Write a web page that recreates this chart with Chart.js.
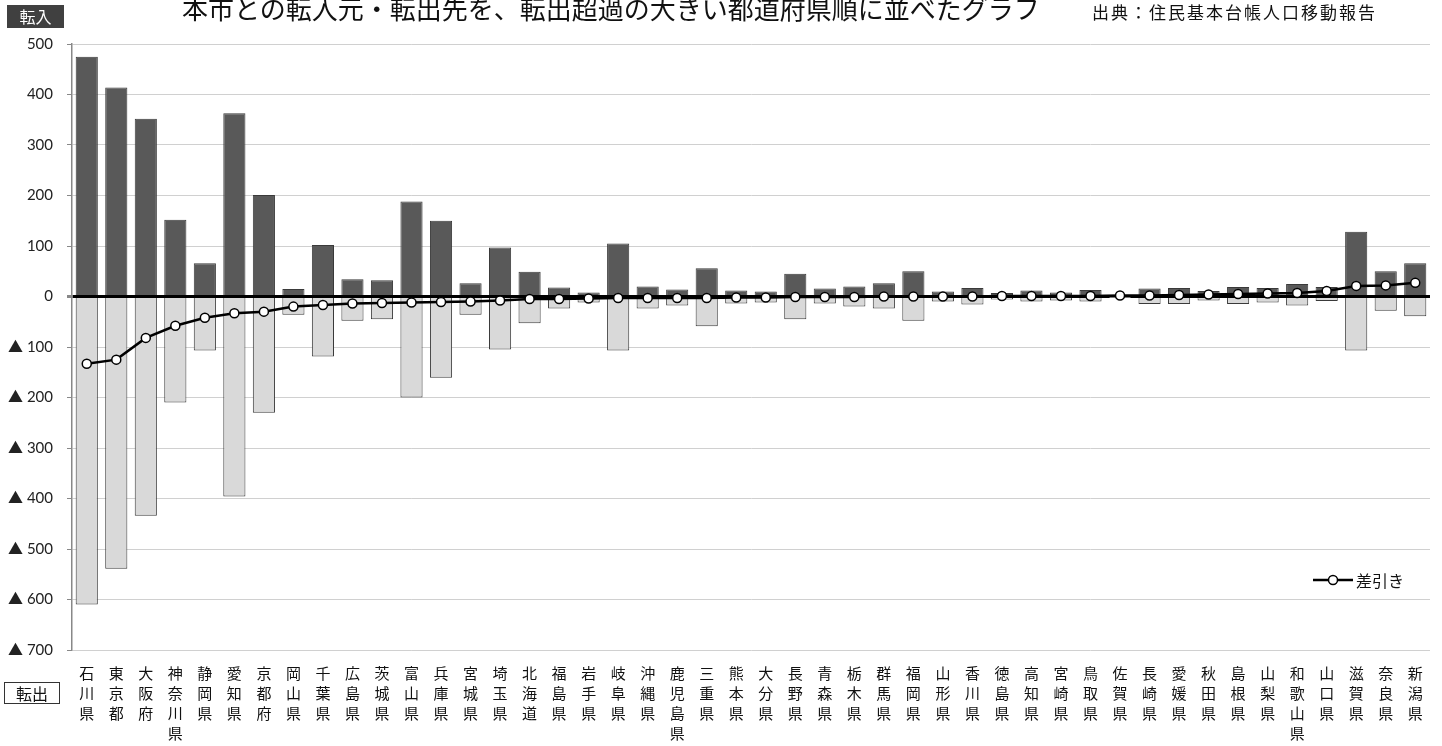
<!DOCTYPE html>
<html lang="ja">
<head>
<meta charset="utf-8">
<script src="https://cdn.jsdelivr.net/npm/chart.js@4"></script>
<style>
  body { margin: 0; background: #fff; }
  #wrap { position: relative; width: 1442px; height: 746px; overflow: hidden; font-family: "Noto Sans CJK JP", sans-serif; }
  #wrap canvas { position: absolute; left: 0; top: 0; }
  .title { position: absolute; left: 182px; top: -5px; font-size: 26px; line-height: 26px; color: #111; white-space: nowrap; }
  .source { position: absolute; left: 1092px; top: 2px; font-size: 17px; line-height: 20px; letter-spacing: 2px; color: #111; white-space: nowrap; }
  .tag-in { position: absolute; left: 7px; top: 5px; width: 57px; height: 23px; background: #404040; color: #fff; font-size: 16px; line-height: 23px; text-align: center; }
  .tag-out { position: absolute; left: 4px; top: 682px; width: 54px; height: 20px; border: 1px solid #333; color: #111; font-size: 16px; line-height: 20px; text-align: center; }
  .legend { position: absolute; left: 1313px; top: 569px; height: 22px; display: flex; align-items: center; font-size: 16px; color: #111; }
  .legend svg { margin-right: 3px; }
</style>
</head>
<body>
<div id="wrap">
  <canvas id="myChart" width="1442" height="746"></canvas>
  <div class="title">本市との転入元・転出先を、転出超過の大きい都道府県順に並べたグラフ</div>
  <div class="source">出典：住民基本台帳人口移動報告</div>
  <div class="tag-in">転入</div>
  <div class="tag-out">転出</div>
  <div class="legend">
    <svg width="40" height="12"><line x1="0" y1="6" x2="40" y2="6" stroke="#000" stroke-width="2.5"/><circle cx="20" cy="6" r="4.5" fill="#fff" stroke="#000" stroke-width="1.5"/></svg>
    <span>差引き</span>
  </div>
</div>
<script>
// 都道府県（転出超過の大きい順）
const prefectures = [
  "石川県", "東京都", "大阪府", "神奈川県", "静岡県", "愛知県", "京都府", "岡山県",
  "千葉県", "広島県", "茨城県", "富山県", "兵庫県", "宮城県", "埼玉県", "北海道",
  "福島県", "岩手県", "岐阜県", "沖縄県", "鹿児島県", "三重県", "熊本県", "大分県",
  "長野県", "青森県", "栃木県", "群馬県", "福岡県", "山形県", "香川県", "徳島県",
  "高知県", "宮崎県", "鳥取県", "佐賀県", "長崎県", "愛媛県", "秋田県", "島根県",
  "山梨県", "和歌山県", "山口県", "滋賀県", "奈良県", "新潟県",
];

// 転入（人）
const tennyu = [
  475, 414, 352, 152, 66, 363, 201, 15,
  102, 34, 32, 188, 150, 26, 97, 49,
  18, 8, 105, 20, 14, 56, 12, 10,
  45, 16, 20, 26, 50, 10, 17, 7,
  12, 8, 13, 2, 16, 17, 11, 19,
  17, 25, 19, 128, 50, 66,
];

// 転出（人、マイナス表示）
const tenshutsu = [
  -610, -539, -434, -210, -107, -396, -230, -36,
  -119, -48, -45, -200, -161, -36, -105, -53,
  -24, -12, -107, -24, -18, -59, -14, -12,
  -45, -14, -20, -24, -48, -10, -16, -6,
  -10, -8, -10, -1, -15, -15, -8, -15,
  -12, -18, -9, -107, -28, -39,
];

// 差引き
const sabiki = [
  -133, -125, -82, -58, -42, -33, -30, -20,
  -17, -14, -13, -12, -11, -10, -8, -5,
  -5, -4, -3, -3, -3, -3, -2, -2,
  -1, -1, -1, 0, 0, 0, 0, 1,
  1, 1, 1, 2, 2, 3, 4, 5,
  6, 7, 11, 21, 22, 27,
];

const yMin = -700;
const yMax = 500;
const yStep = 100;

// ラベルは縦書き（1文字ずつ改行）
const labels = prefectures.map((p) => p.split(""));

const numFont = 'Lato, "Noto Sans CJK JP", sans-serif';

const config = {
  type: "bar",
  data: {
    labels: labels,
    datasets: [
      {
        type: "line",
        label: "差引き",
        data: sabiki,
        borderColor: "#000",
        borderWidth: 2.5,
        pointRadius: 4.5,
        pointBackgroundColor: "#fff",
        pointBorderColor: "#000",
        pointBorderWidth: 1.5,
        tension: 0,
        order: 0,
      },
      {
        label: "転入",
        data: tennyu,
        backgroundColor: "#595959",
        borderColor: "#3a3a3a",
        borderWidth: 1,
        barPercentage: 0.75,
        categoryPercentage: 1,
        order: 1,
      },
      {
        label: "転出",
        data: tenshutsu,
        backgroundColor: "#d9d9d9",
        borderColor: "#3a3a3a",
        borderWidth: 1,
        barPercentage: 0.75,
        categoryPercentage: 1,
        order: 2,
      },
    ],
  },
  options: {
    responsive: false,
    animation: false,
    layout: {
      padding: { left: 0, right: 12, top: 44, bottom: 0 },
    },
    plugins: {
      legend: { display: false },
      tooltip: { enabled: false },
    },
    scales: {
      x: {
        stacked: true,
        offset: true,
        grid: { display: false, drawTicks: false },
        border: { display: false },
        ticks: {
          autoSkip: false,
          maxRotation: 0,
          minRotation: 0,
          padding: 13,
          color: "#111",
          font: { family: '"Noto Sans CJK JP", sans-serif', size: 15, lineHeight: "20px" },
        },
        afterFit: (axis) => {
          axis.height = 96;
        },
      },
      y: {
        min: yMin,
        max: yMax,
        ticks: {
          stepSize: yStep,
          padding: 14,
          color: "#222",
          font: { family: numFont, size: 15 },
          callback: (v) => (v < 0 ? "▲ " + -v : v),
        },
        grid: {
          color: (ctx) => (ctx.tick && ctx.tick.value === 0 ? "#000" : "#d0d0d0"),
          lineWidth: (ctx) => (ctx.tick && ctx.tick.value === 0 ? 3 : 1),
          tickLength: 5,
          tickColor: "#888",
        },
        border: { display: true, color: "#888", width: 1.5 },
        afterFit: (axis) => {
          axis.width = 72;
        },
      },
    },
  },
};

const myChart = new Chart(document.getElementById("myChart"), config);
</script>
</body>
</html>
